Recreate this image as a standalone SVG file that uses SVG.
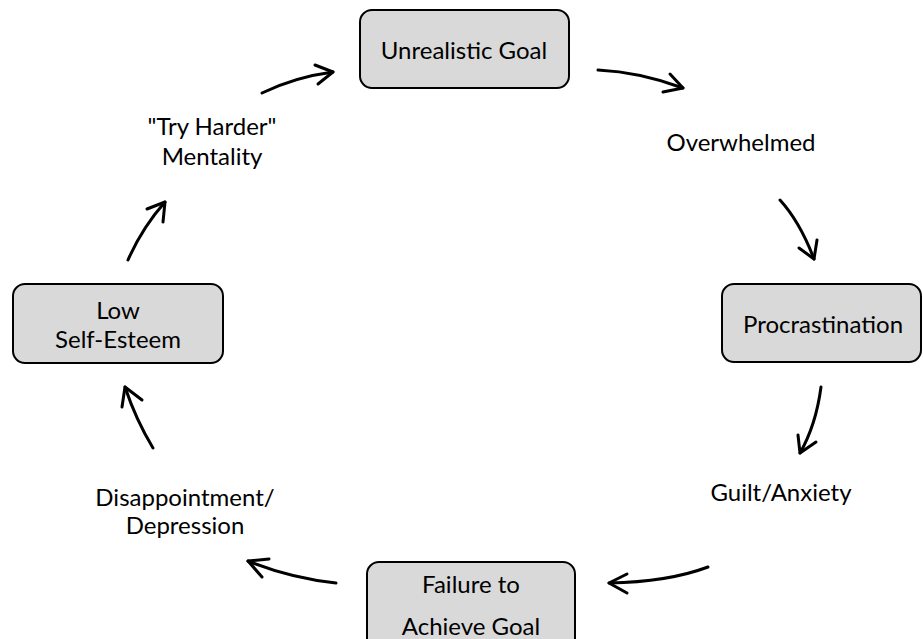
<svg xmlns="http://www.w3.org/2000/svg" width="923" height="639" viewBox="0 0 923 639">
<style>
.box{fill:#d9d9d9;stroke:#000;stroke-width:2}
.t{font-family:Lato,"Open Sans","Liberation Sans",sans-serif;font-size:24px;fill:#000;text-anchor:middle;dominant-baseline:central}
.c{fill:none;stroke:#000;stroke-width:3;stroke-linecap:round;stroke-linejoin:round}
</style>
<rect width="923" height="639" fill="#fff"/>
<g id="unrealistic-goal"><rect class="box" x="360" y="10" width="209" height="78" rx="12"/><text class="t" x="464" y="49">Unrealistic Goal</text></g>
<g id="overwhelmed"><text class="t" x="741" y="141">Overwhelmed</text></g>
<g id="procrastination"><rect class="box" x="722" y="284" width="199" height="78" rx="12"/><text class="t" x="823" y="323">Procrastination</text></g>
<g id="guilt-anxiety"><text class="t" x="781" y="491">Guilt/Anxiety</text></g>
<g id="failure"><rect class="box" x="367" y="562" width="208" height="90" rx="12"/><text class="t" x="471" y="583">Failure to</text><text class="t" x="471" y="625">Achieve Goal</text></g>
<g id="disappointment"><text class="t" x="185" y="496">Disappointment/</text><text class="t" x="185" y="524">Depression</text></g>
<g id="low-self-esteem"><rect class="box" x="13" y="284" width="210" height="79" rx="12"/><text class="t" x="118" y="309">Low</text><text class="t" x="118" y="338">Self-Esteem</text></g>
<g id="try-harder"><text class="t" x="212" y="125">"Try Harder"</text><text class="t" x="212" y="155">Mentality</text></g>
<g id="connectors">
<path class="c" d="M598,70 Q640,72 683,88"/><polyline class="c" points="670,74 683,88 663,92"/>
<path class="c" d="M780,200 Q800,222 814,259"/><polyline class="c" points="799,248 814,259 817,240"/>
<path class="c" d="M821,387 Q816,425 800,453"/><polyline class="c" points="798,435 800,453 816,442"/>
<path class="c" d="M708,567 Q668,582 609,583"/><polyline class="c" points="627,574 609,583 627,593"/>
<path class="c" d="M336,583 Q290,578 248,561"/><polyline class="c" points="269,559 248,561 262,577"/>
<path class="c" d="M153,448 Q136,420 125,387"/><polyline class="c" points="122,407 125,387 142,400"/>
<path class="c" d="M128,260 Q142,228 165,202"/><polyline class="c" points="147,209 165,202 163,222"/>
<path class="c" d="M262,93 Q295,77 333,72"/><polyline class="c" points="315,65 333,72 318,84"/>
</g>
</svg>
